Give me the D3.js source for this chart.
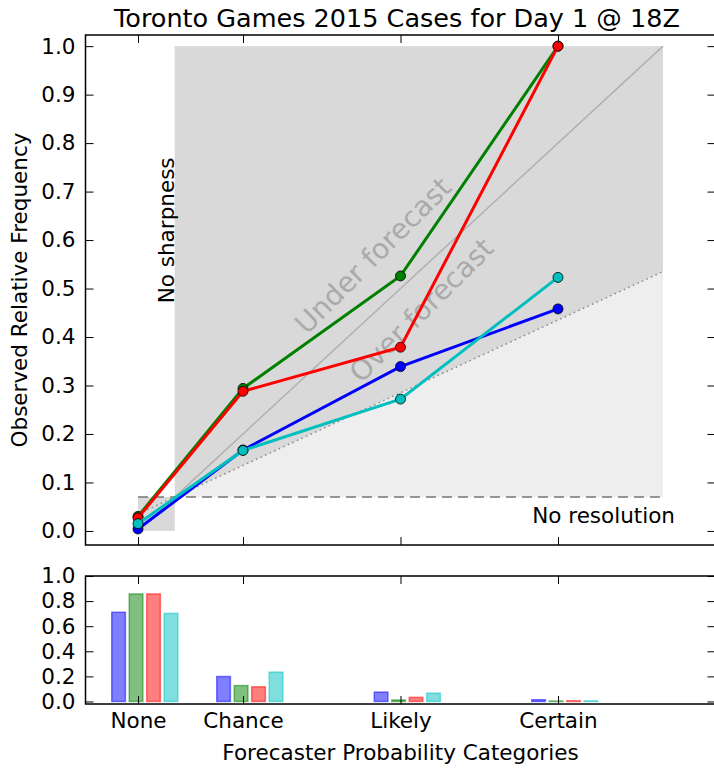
<!DOCTYPE html>
<html>
<head>
<meta charset="utf-8">
<script src="https://cdn.jsdelivr.net/npm/d3@7"></script>
<style>
body { margin: 0; background: #fff; }
text { font-family: "DejaVu Sans", sans-serif; fill: #000; }
</style>
</head>
<body>
<script>
var w = 714, h = 768;

// data
var categories = ["None", "Chance", "Likely", "Certain"];
var catProb = [0, 0.2, 0.5, 0.8];
var climatology = 0.07;
var seriesColors = ["#0000ff", "#008000", "#ff0000", "#00bfbf"];
var obsBlue = [0.004, 0.167, 0.339, 0.458];
var obsGreen = [0.030, 0.294, 0.526, 1.0];
var obsRed = [0.027, 0.288, 0.379, 1.0];
var obsCyan = [0.015, 0.166, 0.272, 0.523];
var freqBlue = [0.711, 0.199, 0.075, 0.014];
var freqGreen = [0.857, 0.127, 0.012, 0.004];
var freqRed = [0.857, 0.117, 0.033, 0.006];
var freqCyan = [0.702, 0.234, 0.066, 0.005];
var yTicks = [0, 0.1, 0.2, 0.3, 0.4, 0.5, 0.6, 0.7, 0.8, 0.9, 1.0];
var histTicks = [0, 0.2, 0.4, 0.6, 0.8, 1.0];

var obs = [obsBlue, obsGreen, obsRed, obsCyan];
var freq = [freqBlue, freqGreen, freqRed, freqCyan];

var svg = d3.select("body").append("svg").attr("width", w).attr("height", h);

// scales
var x = d3.scaleLinear().domain([-0.1, 1.1]).range([85.5, 715.5]);
var y = d3.scaleLinear().domain([-0.029, 1.023]).range([545, 35]);
var yh = d3.scaleLinear().domain([-0.02, 1.0]).range([704, 576]);

var fs = 21.5;

// shaded regions
svg.append("rect")
    .attr("x", x(climatology)).attr("y", y(1))
    .attr("width", x(1) - x(climatology)).attr("height", y(climatology) - y(1))
    .style("fill", "#eeeeee");
var noSkill = function (p) { return (p + climatology) / 2; };
svg.append("path")
    .attr("d", d3.line()([
        [x(climatology), y(1)], [x(1), y(1)],
        [x(1), y(noSkill(1))], [x(climatology), y(noSkill(climatology))]
    ]) + "Z")
    .style("fill", "#d9d9d9");
svg.append("rect")
    .attr("x", x(0)).attr("y", y(climatology))
    .attr("width", x(climatology) - x(0)).attr("height", y(0) - y(climatology))
    .style("fill", "#d9d9d9");

// perfect reliability diagonal
svg.append("line")
    .attr("x1", x(0)).attr("y1", y(0)).attr("x2", x(1)).attr("y2", y(1))
    .style("stroke", "#b0b0b0").style("stroke-width", 1.5);
// no skill line
svg.append("line")
    .attr("x1", x(0)).attr("y1", y(noSkill(0))).attr("x2", x(1)).attr("y2", y(noSkill(1)))
    .style("stroke", "#888").style("stroke-width", 1.5).style("stroke-dasharray", "1.5,3.5");
// no resolution line
svg.append("line")
    .attr("x1", x(0)).attr("y1", y(climatology)).attr("x2", x(1)).attr("y2", y(climatology))
    .style("stroke", "#777").style("stroke-width", 1.5).style("stroke-dasharray", "10,6");

// annotations
svg.append("text")
    .attr("transform", "translate(" + (x(climatology) - 1) + "," + y(0.62) + ") rotate(-90)")
    .attr("text-anchor", "middle")
    .style("font-size", fs + "px")
    .text("No sharpness");
svg.append("text")
    .attr("x", 675).attr("y", 523)
    .attr("text-anchor", "end")
    .style("font-size", fs + "px")
    .text("No resolution");
[["Under forecast", 0.448, 0.568], ["Over forecast", 0.54, 0.455]].forEach(function (t) {
    svg.append("text")
        .attr("transform", "translate(" + x(t[1]) + "," + y(t[2]) + ") rotate(-45)")
        .attr("text-anchor", "middle")
        .attr("dominant-baseline", "central")
        .style("font-size", "28px")
        .style("fill", "#aaaaaa")
        .text(t[0]);
});

// reliability curves
var line = d3.line()
    .x(function (d, i) { return x(catProb[i]); })
    .y(function (d) { return y(d); });
obs.forEach(function (s, k) {
    svg.append("path").attr("d", line(s))
        .style("fill", "none").style("stroke", seriesColors[k]).style("stroke-width", 3);
    svg.selectAll(null).data(s).enter().append("circle")
        .attr("cx", function (d, i) { return x(catProb[i]); })
        .attr("cy", function (d) { return y(d); })
        .attr("r", 5)
        .style("fill", seriesColors[k]).style("stroke", "#000").style("stroke-width", 0.8);
});

// histogram bars
var barW = 0.026;
freq.forEach(function (s, k) {
    svg.selectAll(null).data(s).enter().append("rect")
        .attr("x", function (d, i) { return x(catProb[i] - 0.05 + k * 0.0333); })
        .attr("y", function (d) { return yh(d); })
        .attr("width", x(barW) - x(0))
        .attr("height", function (d) { return yh(0) - yh(d); })
        .style("fill", seriesColors[k]).style("fill-opacity", 0.5)
        .style("stroke", seriesColors[k]).style("stroke-opacity", 0.5).style("stroke-width", 1.5);
});

// axes: inward ticks on all four sides
function frame(ys, ticks, labels) {
    var top = ys.range()[1], bottom = ys.range()[0];
    var g = svg.append("g");
    g.append("g").attr("transform", "translate(" + x.range()[0] + ",0)")
        .call(d3.axisLeft(ys).tickValues(ticks).tickSizeInner(-8).tickSizeOuter(0).tickPadding(10)
            .tickFormat(d3.format(".1f")));
    g.append("g").attr("transform", "translate(" + x.range()[1] + ",0)")
        .call(d3.axisRight(ys).tickValues(ticks).tickSizeInner(-8).tickSizeOuter(0).tickFormat(""));
    g.append("g").attr("transform", "translate(0," + top + ")")
        .call(d3.axisTop(x).tickValues(catProb).tickSizeInner(-8).tickSizeOuter(0).tickFormat(""));
    g.append("g").attr("transform", "translate(0," + bottom + ")")
        .call(d3.axisBottom(x).tickValues(catProb).tickSizeInner(-8).tickSizeOuter(0).tickPadding(9)
            .tickFormat(function (d, i) { return labels ? categories[i] : ""; }));
    g.selectAll(".domain").remove();
    g.selectAll(".tick line").style("stroke", "#000").style("stroke-width", 1);
    g.selectAll(".tick text").style("font-size", fs + "px").attr("font-family", null).style("fill", "#000");
    g.append("rect")
        .attr("x", x.range()[0]).attr("y", top)
        .attr("width", x.range()[1] - x.range()[0]).attr("height", bottom - top)
        .style("fill", "none").style("stroke", "#000").style("stroke-width", 1.5);
}
frame(y, yTicks, false);
frame(yh, histTicks, true);

// titles
svg.append("text")
    .attr("x", 397).attr("y", 27)
    .attr("text-anchor", "middle")
    .style("font-size", "25.5px")
    .text("Toronto Games 2015 Cases for Day 1 @ 18Z");
svg.append("text")
    .attr("transform", "translate(27," + (y.range()[0] + y.range()[1]) / 2 + ") rotate(-90)")
    .attr("text-anchor", "middle")
    .style("font-size", fs + "px")
    .text("Observed Relative Frequency");
svg.append("text")
    .attr("x", (x.range()[0] + x.range()[1]) / 2).attr("y", 760)
    .attr("text-anchor", "middle")
    .style("font-size", fs + "px")
    .text("Forecaster Probability Categories");
</script>
</body>
</html>
